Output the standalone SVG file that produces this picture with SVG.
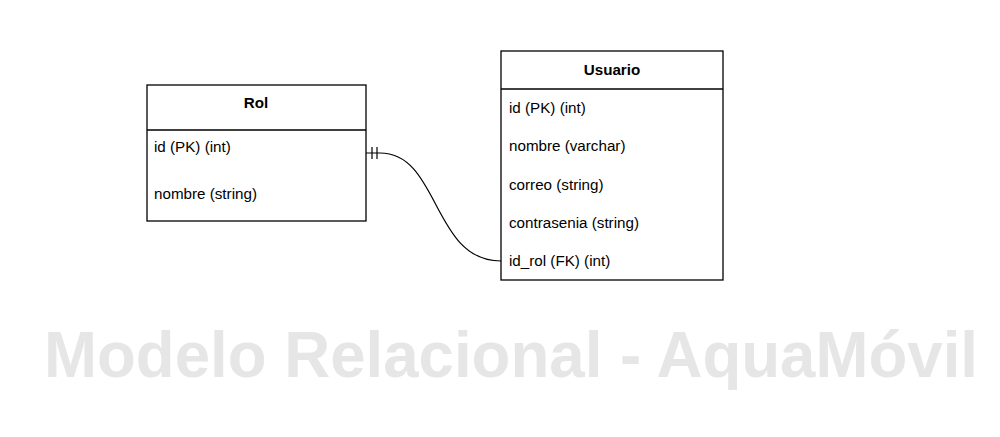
<svg xmlns="http://www.w3.org/2000/svg" width="1000" height="437" viewBox="0 0 1000 437">
<style>
.box{fill:#fff;stroke:#000;stroke-width:1.3}
.sep{stroke:#000;stroke-width:1.3}
.t{font-family:"Liberation Sans",Arial,sans-serif;font-size:15.2px;fill:#000;dominant-baseline:central}
.h{font-weight:bold;text-anchor:middle}
.edge{fill:none;stroke:#000;stroke-width:1.2}
.wm{font-family:"Liberation Sans",Arial,sans-serif;font-size:65px;font-weight:bold;fill:#E6E6E6}
</style>
<rect width="1000" height="437" fill="#fff"/>
<text class="wm" x="44" y="377" textLength="934" lengthAdjust="spacingAndGlyphs">Modelo Relacional - AquaMóvil</text>
<g id="connectors">
<path class="edge" d="M366 153 L380 153 C440 153 432 261 501 261"/>
<path class="edge" d="M372 147 V159 M377 147 V159"/>
</g>
<g id="rol">
<rect class="box" x="147" y="85" width="219" height="136"/>
<line class="sep" x1="147" y1="130" x2="366" y2="130"/>
<text class="t h" x="256" y="102">Rol</text>
<text class="t" x="154" y="146">id (PK) (int)</text>
<text class="t" x="154" y="193">nombre (string)</text>
</g>
<g id="usuario">
<rect class="box" x="501" y="51" width="222" height="229"/>
<line class="sep" x1="501" y1="89" x2="723" y2="89"/>
<text class="t h" x="612" y="69">Usuario</text>
<text class="t" x="509" y="107">id (PK) (int)</text>
<text class="t" x="509" y="145">nombre (varchar)</text>
<text class="t" x="509" y="184">correo (string)</text>
<text class="t" x="509" y="222">contrasenia (string)</text>
<text class="t" x="509" y="260">id_rol (FK) (int)</text>
</g>
</svg>
